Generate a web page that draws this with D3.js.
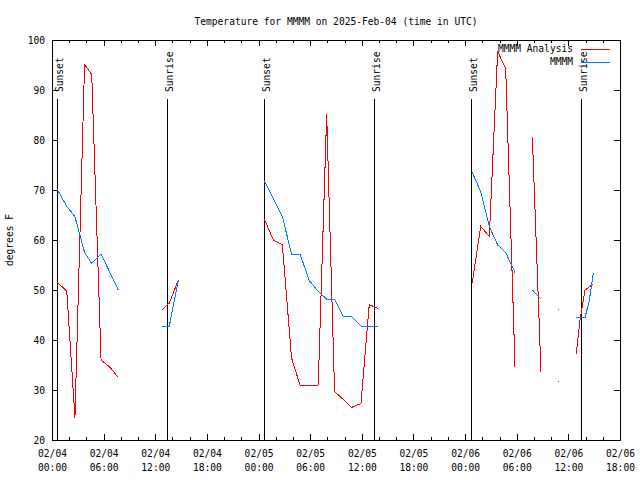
<!DOCTYPE html>
<html><head><meta charset="utf-8">
<script src="https://cdn.jsdelivr.net/npm/d3@7"></script>
<style>
body{margin:0;background:#fff}
svg text{font-family:"DejaVu Sans Mono",monospace;font-size:9.6px;fill:#000}
</style>
</head><body>
<svg id="c" width="640" height="480"></svg>
<script>
// ---- data ----
const times = [
  "2025-02-04T00:37Z","2025-02-04T01:43Z","2025-02-04T02:40Z","2025-02-04T03:47Z","2025-02-04T04:37Z",
  "2025-02-04T05:42Z","2025-02-04T06:42Z","2025-02-04T07:42Z","2025-02-04T08:42Z",
  "2025-02-04T12:49Z","2025-02-04T13:38Z","2025-02-04T14:41Z","2025-02-04T15:41Z",
  "2025-02-05T00:40Z","2025-02-05T01:43Z","2025-02-05T02:46Z","2025-02-05T03:50Z","2025-02-05T04:49Z",
  "2025-02-05T05:54Z","2025-02-05T06:56Z","2025-02-05T07:55Z","2025-02-05T08:50Z","2025-02-05T09:51Z",
  "2025-02-05T10:47Z","2025-02-05T11:54Z","2025-02-05T12:52Z","2025-02-05T13:51Z","2025-02-05T14:51Z",
  "2025-02-06T00:50Z","2025-02-06T01:49Z","2025-02-06T02:49Z","2025-02-06T03:47Z","2025-02-06T04:43Z",
  "2025-02-06T05:48Z","2025-02-06T06:48Z","2025-02-06T07:49Z","2025-02-06T08:49Z","2025-02-06T09:49Z",
  "2025-02-06T10:50Z","2025-02-06T11:50Z","2025-02-06T12:55Z","2025-02-06T13:21Z","2025-02-06T13:56Z",
  "2025-02-06T14:26Z","2025-02-06T14:54Z"
];
const analysis = [
  51.5, 49.8, 24.5, 95.1, 93.1, 36.0, 34.6, 32.5, null,
  46.1, 47.4, 52.0, null,
  64.2, 60.0, 59.1, 36.4, 31.0, 30.9, 31.0, 85.2, 29.7, 28.1, 26.5, 27.3, 47.1, 46.3, null,
  51.5, 62.7, 60.7, 97.7, 94.3, 34.7, null, 80.5, 33.7, null, 31.8, null,
  37.3, 44.0, 50.0, 50.6, 51.3
];
const mmmm = [
  70.1, 66.7, 64.7, 57.5, 55.3, 57.2, 53.6, 50.0, null,
  42.8, 42.8, 52.0, null,
  71.8, 68.3, 64.7, 57.2, 57.2, 51.9, 49.7, 48.2, 48.2, 44.7, 44.7, 42.8, 42.8, 42.8, null,
  73.5, 69.7, 62.7, 59.0, 57.5, 53.5, null, 50.0, 48.2, null, 46.3, null,
  44.5, 44.5, 44.5, 47.9, 53.5
];
const sunTimes = ["2025-02-04T00:37Z","2025-02-04T13:24Z","2025-02-05T00:40Z","2025-02-05T13:27Z","2025-02-06T00:43Z","2025-02-06T13:30Z"];
const sunLabels = ["Sunset","Sunrise","Sunset","Sunrise","Sunset","Sunrise"];
const yTicks = [20,30,40,50,60,70,80,90,100];
const seriesNames = ["MMMM Analysis","MMMM"];
const seriesColors = ["#ff0000","#0080ff"];
const titleText = "Temperature for MMMM on 2025-Feb-04 (time in UTC)";
const yLabel = "degrees F";

// ---- layout ----
const M = {l:52, t:40, r:20, b:40};
const W = 640 - M.l - M.r, H = 480 - M.t - M.b;
const svg = d3.select("#c");
const g = svg.append("g").attr("transform", `translate(${M.l},${M.t})`);

const x = d3.scaleUtc()
  .domain([new Date("2025-02-04T00:00Z"), new Date("2025-02-06T18:00Z")])
  .range([0, W]);
const y = d3.scaleLinear().domain([20,100]).range([H,0]);

const majorT = d3.utcHour.every(6).range(x.domain()[0], new Date(+x.domain()[1]+1));
const minorT = d3.utcHour.every(2).range(x.domain()[0], new Date(+x.domain()[1]+1))
  .filter(d => d.getUTCHours() % 6 !== 0);

function clean(sel){ sel.select(".domain").remove(); sel.selectAll("line").attr("stroke","#000").attr("shape-rendering","crispEdges"); }

// bottom axis major
const xb = g.append("g").attr("transform",`translate(0,${H})`)
  .call(d3.axisBottom(x).tickValues(majorT).tickSizeInner(-6).tickSizeOuter(0).tickPadding(0).tickFormat(""));
clean(xb);
xb.selectAll(".tick text").each(function(d){
  const t = d3.select(this).attr("y",null).attr("dy",null);
  t.append("tspan").attr("x",0).attr("y",17).text(d3.utcFormat("%m/%d")(d));
  t.append("tspan").attr("x",0).attr("y",31).text(d3.utcFormat("%H:%M")(d));
});
const xbm = g.append("g").attr("transform",`translate(0,${H})`)
  .call(d3.axisBottom(x).tickValues(minorT).tickSizeInner(-3).tickSizeOuter(0).tickFormat(""));
clean(xbm);
// top mirror
const xt = g.append("g").call(d3.axisTop(x).tickValues(majorT).tickSizeInner(-6).tickSizeOuter(0).tickFormat(""));
clean(xt);
const xtm = g.append("g").call(d3.axisTop(x).tickValues(minorT).tickSizeInner(-3).tickSizeOuter(0).tickFormat(""));
clean(xtm);
// y axes
const yl = g.append("g").call(d3.axisLeft(y).tickValues(yTicks).tickSizeInner(-6).tickSizeOuter(0).tickPadding(7));
clean(yl);
yl.selectAll(".tick text").attr("dy","0.35em");
const yr = g.append("g").attr("transform",`translate(${W},0)`)
  .call(d3.axisRight(y).tickValues(yTicks).tickSizeInner(-6).tickSizeOuter(0).tickFormat(""));
clean(yr);
svg.selectAll(".tick text").attr("font-family",null).attr("font-size",null);

// sun lines
sunTimes.forEach((s,i) => {
  const xx = Math.round(x(new Date(s)));
  g.append("line").attr("x1",xx+0.5).attr("x2",xx+0.5).attr("y1",59).attr("y2",H)
    .attr("stroke","#000").attr("shape-rendering","crispEdges");
  g.append("text").attr("transform",`translate(${xx+0.5},52) rotate(-90)`)
    .attr("y",2).attr("dy","0.35em").text(sunLabels[i]);
});

// series
const dates = times.map(t => new Date(t));
[analysis, mmmm].forEach((vals,si) => {
  const pts = dates.map((d,i) => ({d, v: vals[i]}));
  const line = d3.line().defined(p => p.v !== null).x(p => x(p.d)).y(p => y(p.v));
  g.append("path").attr("d", line(pts)).attr("fill","none")
    .attr("stroke", seriesColors[si]).attr("stroke-width",1).attr("shape-rendering","crispEdges");
  pts.forEach((p,i) => {
    if (p.v === null) return;
    const prev = i>0 ? pts[i-1].v : null, next = i<pts.length-1 ? pts[i+1].v : null;
    if (prev === null && next === null) {
      g.append("rect").attr("x", Math.round(x(p.d))).attr("y", Math.round(y(p.v)))
        .attr("width",1).attr("height",1).attr("fill",seriesColors[si]);
    }
  });
});

// border
g.append("rect").attr("x",0.5).attr("y",0.5).attr("width",W).attr("height",H)
  .attr("fill","none").attr("stroke","#000").attr("shape-rendering","crispEdges");

// title
svg.append("text").attr("x", M.l + W/2).attr("y", 25).attr("text-anchor","middle").text(titleText);
// y label
svg.append("text").attr("transform",`translate(10,240) rotate(-90)`).attr("text-anchor","middle")
  .attr("dy","0.35em").text(yLabel);

// legend
seriesNames.forEach((n,i) => {
  const ly = 49 + i*13;
  svg.append("text").attr("x",573).attr("y",ly).attr("dy","0.35em").attr("text-anchor","end").text(n);
  svg.append("line").attr("x1",581).attr("x2",610).attr("y1",ly+0.5).attr("y2",ly+0.5)
    .attr("stroke",seriesColors[i]).attr("shape-rendering","crispEdges");
});
</script>
</body></html>
